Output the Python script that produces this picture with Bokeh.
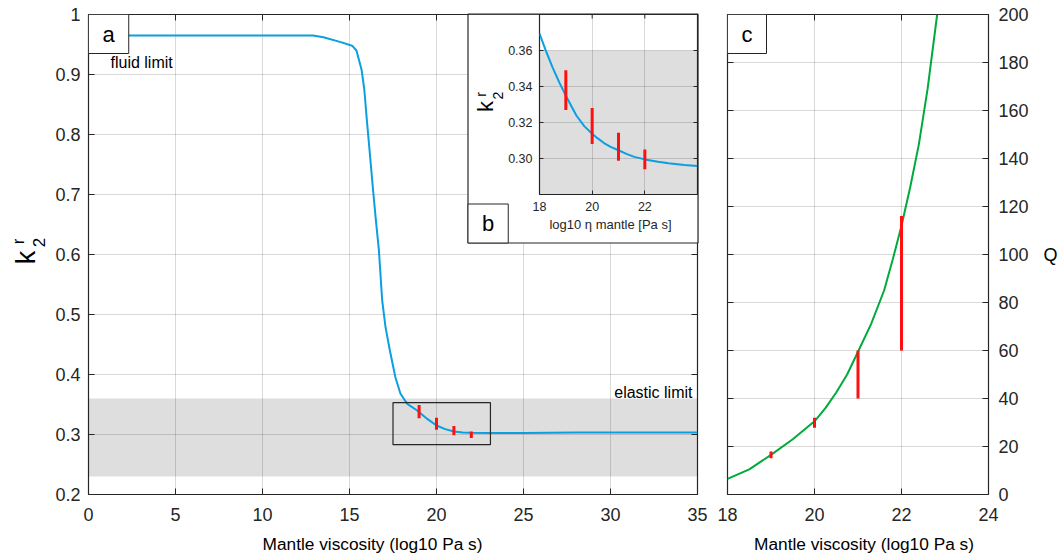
import math
from bokeh.plotting import figure
from bokeh.models import (Range1d, FixedTicker, BoxAnnotation, Label, GridBox)
from bokeh.embed import file_html
from bokeh.resources import INLINE

# ---------------- data ----------------
# panel a: k2 Love number vs mantle viscosity
visc_a = [0, 5, 10, 12.9, 13.5, 14.5, 15.15, 15.4, 15.7, 15.85, 16.0, 16.17, 16.34,
          16.5, 16.69, 16.88, 17.07, 17.32, 17.64, 17.93, 18.32, 18.89, 19.47,
          20.0, 20.5, 21.0, 21.5, 22.0, 23.0, 25.0, 28.0, 35.0]
k2_a = [0.965, 0.965, 0.965, 0.965, 0.962, 0.954, 0.948, 0.940, 0.907, 0.875, 0.823,
        0.768, 0.712, 0.662, 0.607, 0.523, 0.479, 0.440, 0.395, 0.368, 0.351, 0.340,
        0.326, 0.315, 0.309, 0.305, 0.3035, 0.3028, 0.3025, 0.3025, 0.3032, 0.3032]
# observations (error bars)
obs_visc = [19, 20, 21, 22]
k2_lo = [0.327, 0.308, 0.2987, 0.294]
k2_hi = [0.349, 0.328, 0.3143, 0.305]
# panel b: zoom
visc_b = [18.0, 18.25, 18.5, 18.75, 19.0, 19.4, 19.7, 20.0, 20.2, 20.45, 20.7, 21.0,
          21.3, 21.6, 22.0, 22.5, 22.9, 23.5, 24.0]
k2_b = [0.3694, 0.3595, 0.3505, 0.3423, 0.3349, 0.3239, 0.3180, 0.3138, 0.3113, 0.3086,
        0.3065, 0.3046, 0.3026, 0.3009, 0.2995, 0.2982, 0.2973, 0.2964, 0.2958]
# panel c: Q vs viscosity
visc_c = [18.0, 18.5, 19.0, 19.5, 20.0, 20.25, 20.5, 20.75, 21.0, 21.3, 21.6, 21.8,
          22.0, 22.2, 22.4, 22.6, 22.82]
q_c = [6.5, 10.5, 16.5, 23.0, 30.5, 36.0, 42.5, 50.0, 59.5, 71, 85, 98,
       112, 128, 146, 169, 200]
q_lo = [15.1, 27.8, 40, 60]
q_hi = [17.9, 32, 60, 116]
# limits
band_lo, band_hi = 0.23, 0.36
zoom_box = dict(left=17.5, right=23.1, bottom=0.283, top=0.353)

# ticks
xt_a = [0, 5, 10, 15, 20, 25, 30, 35]
xl_a = ["0", "5", "10", "15", "20", "25", "30", "35"]
yt_a = [0.2, 0.3, 0.4, 0.5, 0.6, 0.7, 0.8, 0.9, 1.0]
yl_a = ["0.2", "0.3", "0.4", "0.5", "0.6", "0.7", "0.8", "0.9", "1"]
xt_b = [18, 20, 22]
xl_b = ["18", "20", "22"]
yt_b = [0.30, 0.32, 0.34, 0.36]
yl_b = ["0.30", "0.32", "0.34", "0.36"]
xt_c = [18, 20, 22, 24]
xl_c = ["18", "20", "22", "24"]
yt_c = [0, 20, 40, 60, 80, 100, 120, 140, 160, 180, 200]
yl_c = [str(v) for v in yt_c]

FONT = "Liberation Sans"
INK = "#262626"
BLUE = "#0a9fe0"
GREEN = "#00aa3c"
RED = "#ff1010"


def cfg_axis(ax, ticks, labels, fs, standoff, tick_len):
    ax.ticker = FixedTicker(ticks=ticks)
    ax.major_label_overrides = {t: l for t, l in zip(ticks, labels)}
    ax.major_tick_in = tick_len
    ax.major_tick_out = 0
    ax.minor_tick_in = 0
    ax.minor_tick_out = 0
    ax.axis_line_color = None
    ax.major_tick_line_color = INK
    ax.major_tick_line_width = 1
    ax.major_label_text_font = FONT
    ax.major_label_text_color = INK
    ax.major_label_text_font_size = fs
    ax.major_label_standoff = standoff
    ax.axis_label = None


def cfg_fig(p, xt, yt):
    p.outline_line_color = INK
    p.outline_line_width = 1.2
    p.xgrid.ticker = FixedTicker(ticks=xt)
    p.ygrid.ticker = FixedTicker(ticks=yt)
    for g in (p.xgrid, p.ygrid):
        g.grid_line_color = "black"
        g.grid_line_alpha = 0.15
        g.grid_line_width = 1


def edge_ticks(p, xt, yt, xedge, yedge, size):
    # inward tick marks on the opposite frame edges (box style)
    p.scatter(x=xt, y=[yedge] * len(xt), marker="dash", angle=math.pi / 2, size=2 * size,
              line_color=INK, line_width=1)
    p.scatter(x=[xedge] * len(yt), y=yt, marker="dash", angle=0, size=2 * size,
              line_color=INK, line_width=1)


def lbl(p, **kw):
    base = dict(text_font=FONT, text_color="black")
    base.update(kw)
    p.add_layout(Label(**base))


# ---------------- panel a ----------------
xr_a, yr_a = Range1d(0, 35), Range1d(0.2, 1.0)
pa = figure(width=712, height=559, x_range=xr_a, y_range=yr_a,
            output_backend="svg", toolbar_location=None,
            min_border_left=88, min_border_right=15, min_border_top=14, min_border_bottom=65)
cfg_fig(pa, xt_a, yt_a)
cfg_axis(pa.xaxis[0], xt_a, xl_a, "18px", 13, 6)
cfg_axis(pa.yaxis[0], yt_a, yl_a, "18px", 8, 6)
pa.add_layout(BoxAnnotation(bottom=band_lo, top=band_hi, fill_color="black", fill_alpha=0.13,
                            line_color=None, level="underlay"))
edge_ticks(pa, xt_a, yt_a, xr_a.end, yr_a.end, 6)
pa.line(visc_a, k2_a, line_color=BLUE, line_width=2)
pa.segment(x0=obs_visc, y0=k2_lo, x1=obs_visc, y1=k2_hi, line_color=RED, line_width=3)
pa.add_layout(BoxAnnotation(fill_alpha=0, line_color=INK, line_alpha=1, line_width=1.2,
                            **zoom_box))
lbl(pa, x=xr_a.start, y=yr_a.end, text="a", text_align="left", text_baseline="top",
    text_font_size="22px", padding=dict(left=14, right=14, top=7, bottom=7),
    border_line_color=INK, background_fill_color="white")
lbl(pa, x=xr_a.start, y=yr_a.end, x_offset=22, y_offset=-48, text="fluid limit",
    text_align="left", text_baseline="middle", text_font_size="16px")
lbl(pa, x=xr_a.end, y=band_hi, x_offset=-5, y_offset=6, text="elastic limit",
    text_align="right", text_baseline="alphabetic", text_font_size="16px")

# ---------------- panel b (inset) ----------------
xr_b, yr_b = Range1d(18, 24), Range1d(0.28, 0.38)
pb = figure(width=231, height=229, x_range=xr_b, y_range=yr_b,
            output_backend="svg", toolbar_location=None,
            min_border_left=72, min_border_right=1, min_border_top=0, min_border_bottom=49)
cfg_fig(pb, xt_b, yt_b)
cfg_axis(pb.xaxis[0], xt_b, xl_b, "12.5px", 7, 4)
cfg_axis(pb.yaxis[0], yt_b, yl_b, "12.5px", 7, 4)
pb.add_layout(BoxAnnotation(bottom=band_lo, top=band_hi, fill_color="black", fill_alpha=0.13,
                            line_color=None, level="underlay"))
edge_ticks(pb, xt_b, yt_b, xr_b.end, yr_b.end, 4)
pb.line(visc_b, k2_b, line_color=BLUE, line_width=2)
pb.segment(x0=obs_visc, y0=k2_lo, x1=obs_visc, y1=k2_hi, line_color=RED, line_width=3)

# ---------------- panel c ----------------
xr_c, yr_c = Range1d(18, 24), Range1d(0, 200)
pc = figure(width=350, height=559, x_range=xr_c, y_range=yr_c,
            output_backend="svg", toolbar_location=None, y_axis_location="right",
            min_border_left=15, min_border_right=74, min_border_top=14, min_border_bottom=65)
cfg_fig(pc, xt_c, yt_c)
cfg_axis(pc.xaxis[0], xt_c, xl_c, "18px", 13, 6)
cfg_axis(pc.yaxis[0], yt_c, yl_c, "18px", 10, 6)
edge_ticks(pc, xt_c, yt_c, xr_c.start, yr_c.end, 6)
pc.line(visc_c, q_c, line_color=GREEN, line_width=2)
pc.segment(x0=obs_visc, y0=q_lo, x1=obs_visc, y1=q_hi, line_color=RED, line_width=3)
lbl(pc, x=xr_c.start, y=yr_c.end, text="c", text_align="left", text_baseline="top",
    text_font_size="22px", padding=dict(left=14, right=14, top=7, bottom=7),
    border_line_color=INK, background_fill_color="white")

# ---------------- overlay for texts in the margins (page pixel coordinates) ----------------
ov = figure(width=1062, height=559, x_range=Range1d(0, 1062), y_range=Range1d(559, 0),
            output_backend="svg", toolbar_location=None, x_axis_location=None,
            y_axis_location=None, min_border=0, min_border_left=0, min_border_right=0,
            min_border_top=0, min_border_bottom=0, outline_line_color=None,
            background_fill_alpha=0, border_fill_alpha=0)
ov.grid.visible = False
# inset frame box
ov.add_layout(BoxAnnotation(left=467.5, right=697.5, top=13.5, bottom=242.5, fill_alpha=0,
                            line_color=INK, line_alpha=1, line_width=1.2))
lbl(ov, x=467.5, y=242.5, text="b", text_align="left", text_baseline="bottom",
    text_font_size="22px", padding=dict(left=14, right=14, top=7, bottom=7),
    border_line_color=INK, background_fill_color="white")
lbl(ov, x=610, y=216, text="log10 \u03b7 mantle [Pa s]", text_align="center",
    text_baseline="top", text_font_size="13px", text_color=INK)
# axis titles
lbl(ov, x=372, y=533, text="Mantle viscosity (log10 Pa s)", text_align="center",
    text_baseline="top", text_font_size="17.3px")
lbl(ov, x=863.5, y=533, text="Mantle viscosity (log10 Pa s)", text_align="center",
    text_baseline="top", text_font_size="17.3px")
lbl(ov, x=1050, y=254, text="Q", text_align="center", text_baseline="middle",
    text_font_size="18px")
# k_2^r on panel a
lbl(ov, x=25, y=257, text="k", angle=math.pi / 2, text_align="center",
    text_baseline="middle", text_font_size="27px")
lbl(ov, x=38, y=242, text="2", angle=math.pi / 2, text_align="center",
    text_baseline="middle", text_font_size="17px")
lbl(ov, x=18, y=241, text="r", angle=math.pi / 2, text_align="center",
    text_baseline="middle", text_font_size="17px")
# k_2^r on panel b
lbl(ov, x=485, y=106, text="k", angle=math.pi / 2, text_align="center",
    text_baseline="middle", text_font_size="22px")
lbl(ov, x=497, y=95, text="2", angle=math.pi / 2, text_align="center",
    text_baseline="middle", text_font_size="14px")
lbl(ov, x=480, y=94, text="r", angle=math.pi / 2, text_align="center",
    text_baseline="middle", text_font_size="14px")

# zero-size outer tracks keep the overlay from being frame-aligned with the panels
layout = GridBox(children=[(pa, 1, 1, 3, 3), (pc, 1, 4, 3, 1), (pb, 2, 2, 1, 1),
                           (ov, 0, 0, 5, 6)],
                 rows=["0px", "14px", "229px", "316px", "0px"],
                 cols=["0px", "467px", "231px", "14px", "350px", "0px"])

open("out.html", "w").write(file_html(layout, INLINE))
